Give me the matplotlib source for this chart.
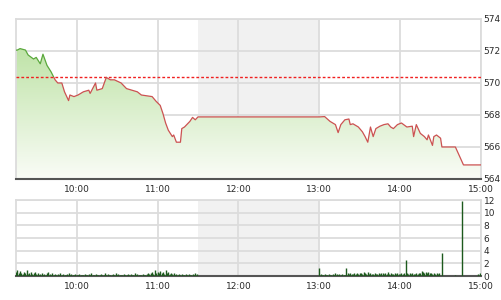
import numpy as np
import matplotlib
matplotlib.use("Agg")
import matplotlib.pyplot as plt
from matplotlib.patches import Rectangle

# price (intraday index), times as H:MM
price_times = ["9:15", "9:16", "9:18", "9:22", "9:24", "9:28", "9:30", "9:33", "9:35", "9:38",
               "9:41", "9:44", "9:46", "9:49", "9:51", "9:54", "9:55", "9:58", "10:01", "10:05",
               "10:09", "10:10", "10:14", "10:15", "10:19", "10:22", "10:25", "10:28", "10:33", "10:37",
               "10:41", "10:45", "10:48", "10:52", "10:56", "10:59", "11:02", "11:04", "11:06", "11:08",
               "11:11", "11:12", "11:14", "11:17", "11:18", "11:20", "11:24", "11:26", "11:28", "11:30",
               "13:00", "13:04", "13:08", "13:12", "13:14", "13:16", "13:19", "13:22", "13:23", "13:25",
               "13:29", "13:32", "13:34", "13:36", "13:38", "13:40", "13:42", "13:45", "13:48", "13:51",
               "13:53", "13:55", "13:58", "14:01", "14:05", "14:09", "14:10", "14:12", "14:15", "14:18",
               "14:20", "14:21", "14:24", "14:25", "14:27", "14:30", "14:31", "14:41", "14:47", "15:00"]
price_vals = [572.05, 572.06, 572.15, 572.06, 571.75, 571.5, 571.6, 571.2, 571.8, 571.1,
              570.7, 570.2, 570.0, 570.0, 569.45, 568.9, 569.25, 569.15, 569.25, 569.45,
              569.55, 569.35, 570.0, 569.55, 569.65, 570.35, 570.2, 570.2, 570.0, 569.65,
              569.55, 569.45, 569.25, 569.2, 569.15, 568.85, 568.6, 568.1, 567.5, 567.05,
              566.65, 566.75, 566.3, 566.3, 567.15, 567.25, 567.6, 567.85, 567.7, 567.88,
              567.88, 567.9, 567.6, 567.4, 566.9, 567.4, 567.7, 567.75, 567.4, 567.45,
              567.25, 566.95, 566.65, 566.3, 567.25, 566.65, 567.15, 567.3, 567.4, 567.45,
              567.25, 567.15, 567.4, 567.5, 567.25, 567.3, 566.65, 567.4, 566.85, 566.65,
              566.45, 566.75, 566.1, 566.65, 566.75, 566.55, 566.0, 566.0, 564.88, 564.88]
ref_price = 570.4

# volume, one bar per minute
vol_am_start = "9:15"
vol_am = [0.6, 0.9, 0.4, 0.8, 0.5, 0.3, 0.6, 0.4, 0.9, 0.3, 0.5, 0.7, 0.3, 0.4, 0.6,
          0.3, 0.4, 0.2, 0.3, 0.5, 0.2, 0.3, 0.2, 0.4, 0.6, 0.3, 0.2, 0.5, 0.2, 0.3,
          0.2, 0.3, 0.2, 0.4, 0.2, 0.3, 0.2, 0.2, 0.3, 0.5, 0.2, 0.3, 0.2, 0.2, 0.3,
          0.2, 0.2, 0.3, 0.2, 0.2, 0.2, 0.3, 0.2, 0.2, 0.3, 0.2, 0.4, 0.2, 0.2, 0.3,
          0.2, 0.2, 0.2, 0.3, 0.2, 0.2, 0.4, 0.2, 0.3, 0.2, 0.2, 0.2, 0.3, 0.2, 0.5,
          0.2, 0.3, 0.2, 0.2, 0.2, 0.3, 0.2, 0.2, 0.3, 0.2, 0.3, 0.2, 0.2, 0.4, 0.2,
          0.3, 0.2, 0.2, 0.2, 0.3, 0.2, 0.2, 0.3, 0.5, 0.3, 0.4, 0.6, 0.3, 0.9, 0.5,
          0.7, 0.4, 0.8, 0.5, 0.6, 0.3, 0.9, 0.4, 0.6, 0.3, 0.5, 0.3, 0.4, 0.2, 0.3,
          0.2, 0.3, 0.2, 0.3, 0.2, 0.2, 0.3, 0.2, 0.3, 0.2, 0.2, 0.3, 0.2, 0.4, 0.3]
vol_pm_start = "13:00"
vol_pm = [1.2, 0.3, 0.2, 0.2, 0.3, 0.2, 0.2, 0.3, 0.2, 0.2, 0.3, 0.2, 0.4, 0.3, 0.2,
          0.3, 0.2, 0.3, 0.2, 0.2, 1.2, 0.5, 0.3, 0.4, 0.3, 0.3, 0.4, 0.3, 0.5, 0.3,
          0.4, 0.5, 0.3, 0.6, 0.4, 0.3, 0.7, 0.3, 0.4, 0.3, 0.3, 0.4, 0.3, 0.3, 0.4,
          0.3, 0.5, 0.4, 0.3, 0.4, 0.3, 0.6, 0.3, 0.4, 0.3, 0.3, 0.4, 0.3, 0.5, 0.3,
          0.3, 0.5, 0.3, 0.4, 2.6, 0.4, 0.3, 0.5, 0.3, 0.4, 0.3, 0.3, 0.4, 0.3, 0.4,
          0.5, 0.8, 0.6, 0.5, 0.7, 0.4, 0.6, 0.5, 0.4, 0.3, 0.4, 0.3, 0.5, 0.3, 0.4,
          0.0, 3.6, 0.0, 0.0, 0.0, 0.0, 0.0, 0.0, 0.0, 0.0, 0.0, 0.2, 0.0, 0.0, 0.0,
          0.0, 11.8, 0.0, 0.0, 0.0, 0.0, 0.0, 0.0, 0.0, 0.0, 0.0, 0.0, 0.0, 0.3, 0.5]

x_ticks = [10, 11, 12, 13, 14, 15]
x_labels = ["10:00", "11:00", "12:00", "13:00", "14:00", "15:00"]
price_ticks = [564, 566, 568, 570, 572, 574]
vol_ticks = [0, 2, 4, 6, 8, 10, 12]
break_span = ("11:30", "13:00")


def hrs(s):
    h, m = s.split(":")
    return int(h) + int(m) / 60.0


t = np.array([hrs(s) for s in price_times])
p = np.array(price_vals)
t0, t1 = hrs("9:15"), 15.0
tv_am = hrs(vol_am_start) + np.arange(len(vol_am)) / 60.0
tv_pm = hrs(vol_pm_start) + np.arange(len(vol_pm)) / 60.0

fig = plt.figure(figsize=(5.01, 3.0), dpi=100)
ax = fig.add_axes([16 / 501, 1 - 179 / 300, 465 / 501, 160 / 300])
axv = fig.add_axes([16 / 501, 1 - 276 / 300, 465 / 501, 76 / 300])

grid_c = "#dcdcdc"
txt_c = "#2a2a2a"

for a, lo, hi, yt in [(ax, 564, 574, price_ticks), (axv, 0, 12, vol_ticks)]:
    a.set_xlim(t0, t1)
    a.set_ylim(lo, hi)
    a.axvspan(hrs(break_span[0]), hrs(break_span[1]), color="#f1f1f1", zorder=0, lw=0)
    a.set_xticks(x_ticks)
    a.set_xticklabels(x_labels)
    a.set_yticks(yt)
    a.yaxis.tick_right()
    a.grid(True, color=grid_c, lw=1.3, zorder=0.5)
    a.set_axisbelow(True)
    a.tick_params(length=0, labelsize=6.5, colors=txt_c, pad=4)
    a.tick_params(axis="y", pad=2)
    for s in ["top", "left", "right"]:
        a.spines[s].set_color(grid_c)
        a.spines[s].set_linewidth(1.3)
    a.spines["bottom"].set_color("#555555")
    a.spines["bottom"].set_linewidth(1.5)

# gradient fill under the price line
poly = ax.fill_between(t, p, 564, color="none", lw=0)
grad = np.linspace(1, 0, 256).reshape(-1, 1)
top_c = np.array([178, 222, 150]) / 255
bot_c = np.array([250, 252, 247]) / 255
img = top_c * grad[..., None] + bot_c * (1 - grad[..., None])
im = ax.imshow(img, extent=[t0, t1, 564, 574], aspect="auto", zorder=1, origin="upper")
im.set_clip_path(poly.get_paths()[0], transform=ax.transData)

ax.axhline(ref_price, color="#f02020", lw=1.0, ls=(0, (2, 1.5)), zorder=3)

above = Rectangle((t0, ref_price), t1 - t0, 10, transform=ax.transData)
below = Rectangle((t0, 560), t1 - t0, ref_price - 560, transform=ax.transData)
lg, = ax.plot(t, p, color="#5aa83c", lw=0.9, zorder=4)
lg.set_clip_path(above)
lr, = ax.plot(t, p, color="#cc5252", lw=0.9, zorder=4)
lr.set_clip_path(below)

axv.vlines(tv_am, 0, vol_am, color="#1d5a1d", lw=1.0, zorder=3)
axv.vlines(tv_pm, 0, vol_pm, color="#1d5a1d", lw=1.0, zorder=3)

fig.savefig("out.png", dpi=100, facecolor="white")
